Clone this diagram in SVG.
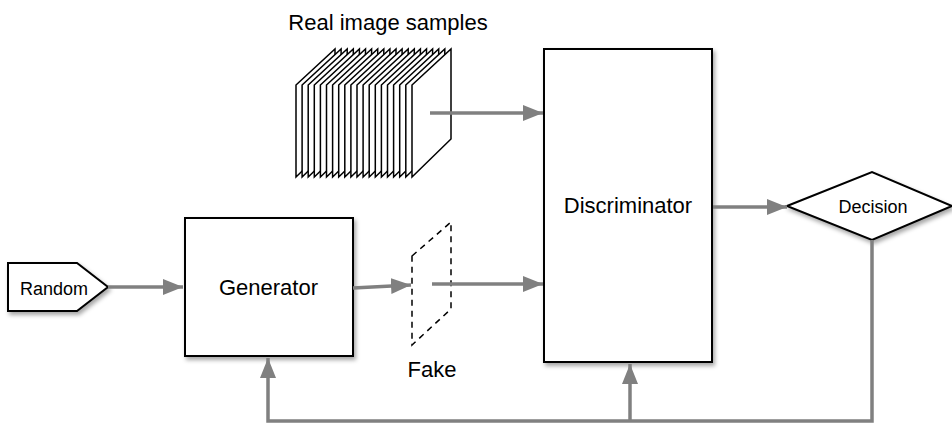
<svg xmlns="http://www.w3.org/2000/svg" width="952" height="425" viewBox="0 0 952 425">
<style>
.node{fill:#fff;stroke:#000;stroke-width:2;filter:url(#sh)}
.frame{fill:#fff;stroke:#000;stroke-width:1.5;stroke-linejoin:miter}
.lbl{font-family:"Liberation Sans",Arial,sans-serif;font-size:22px;fill:#000;text-anchor:middle}
.sm{font-size:18px}
.conn{fill:none;stroke:#808080;stroke-width:3.5}
</style>
<defs>
<filter id="sh" x="-10%" y="-10%" width="130%" height="130%">
<feDropShadow dx="2" dy="3" stdDeviation="2" flood-color="#000" flood-opacity="0.35"/>
</filter>
<marker id="ah" markerUnits="userSpaceOnUse" markerWidth="22" markerHeight="18" refX="20" refY="8" orient="auto">
<path d="M0,0 L20,8 L0,16 Z" fill="#808080"/>
</marker>
</defs>
<text class="lbl" x="388" y="30">Real image samples</text>
<g id="real-samples">
<polygon class="frame" points="296,85 335,49 335,139 296,177"/>
<polygon class="frame" points="302.1,85 341.1,49 341.1,139 302.1,177"/>
<polygon class="frame" points="308.2,85 347.2,49 347.2,139 308.2,177"/>
<polygon class="frame" points="314.3,85 353.3,49 353.3,139 314.3,177"/>
<polygon class="frame" points="320.4,85 359.4,49 359.4,139 320.4,177"/>
<polygon class="frame" points="326.5,85 365.5,49 365.5,139 326.5,177"/>
<polygon class="frame" points="332.6,85 371.6,49 371.6,139 332.6,177"/>
<polygon class="frame" points="338.7,85 377.7,49 377.7,139 338.7,177"/>
<polygon class="frame" points="344.8,85 383.8,49 383.8,139 344.8,177"/>
<polygon class="frame" points="350.9,85 389.9,49 389.9,139 350.9,177"/>
<polygon class="frame" points="357,85 396,49 396,139 357,177"/>
<polygon class="frame" points="363.1,85 402.1,49 402.1,139 363.1,177"/>
<polygon class="frame" points="369.2,85 408.2,49 408.2,139 369.2,177"/>
<polygon class="frame" points="375.3,85 414.3,49 414.3,139 375.3,177"/>
<polygon class="frame" points="381.4,85 420.4,49 420.4,139 381.4,177"/>
<polygon class="frame" points="387.5,85 426.5,49 426.5,139 387.5,177"/>
<polygon class="frame" points="393.6,85 432.6,49 432.6,139 393.6,177"/>
<polygon class="frame" points="399.7,85 438.7,49 438.7,139 399.7,177"/>
<polygon class="frame" points="405.8,85 444.8,49 444.8,139 405.8,177"/>
<polygon class="frame" points="412,85 451,49 451,139 412,177"/>
</g>
<g id="random">
<path class="node" d="M8,263 H77 L108,287 L77,311 H8 Z"/>
<text class="lbl sm" x="54" y="295">Random</text>
</g>
<g id="generator">
<rect class="node" x="185" y="218" width="168" height="138"/>
<text class="lbl" x="268.5" y="295">Generator</text>
</g>
<g id="fake">
<polygon points="412,256 451,222 451,309 412,345" fill="none" stroke="#000" stroke-width="1.5" stroke-dasharray="6,5"/>
<text class="lbl" x="432" y="377">Fake</text>
</g>
<g id="discriminator">
<rect class="node" x="544" y="49" width="168" height="313"/>
<text class="lbl" x="628" y="212.5">Discriminator</text>
</g>
<g id="decision">
<polygon class="node" points="787,206 872,172 952,206 872,240"/>
<text class="lbl sm" x="873" y="213">Decision</text>
</g>
<g id="connectors">
<path class="conn" d="M108,287 H183" marker-end="url(#ah)"/>
<path class="conn" d="M353,288 L411,285" marker-end="url(#ah)"/>
<path class="conn" d="M432,284 H543" marker-end="url(#ah)"/>
<path class="conn" d="M430,113 H543" marker-end="url(#ah)"/>
<path class="conn" d="M713,207 H787" marker-end="url(#ah)"/>
<path class="conn" d="M872,240 V421 H268 V358" marker-end="url(#ah)"/>
<path class="conn" d="M630,421 V364" marker-end="url(#ah)"/>
</g>
</svg>
